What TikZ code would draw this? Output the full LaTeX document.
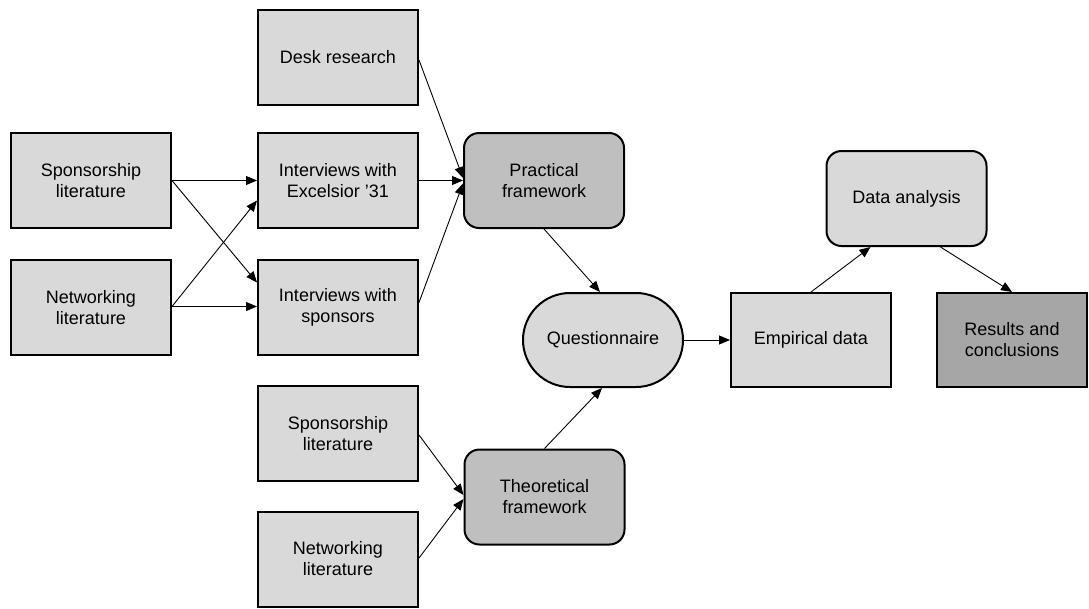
\documentclass[tikz,border=0pt]{standalone}
\usepackage{fontspec}
\setmainfont{Liberation Sans}
\usetikzlibrary{calc,arrows.meta}
\definecolor{boxlight}{HTML}{D9D9D9}
\definecolor{boxmid}{HTML}{BFBFBF}
\definecolor{boxdark}{HTML}{A6A6A6}
\begin{document}
\begin{tikzpicture}[x=1pt,y=-1pt,
  box/.style={draw=black,line width=2pt,fill=boxlight,minimum width=160pt,minimum height=95pt,
    inner sep=0pt,align=center,font=\fontsize{18}{21}\selectfont},
  roundbox/.style={box,rounded corners=15pt},
  pill/.style={box,rounded corners=47pt},
  link/.style={line width=0.9pt,-{Triangle[length=11pt,width=9pt]}}]
\useasboundingbox (0,0) rectangle (1089,608);
% sources
\node[box] (desk) at (338,57) {Desk research};
\node[box] (spl) at (91,180.5) {Sponsorship\\literature};
\node[box] (nwl) at (91,307.5) {Networking\\literature};
\node[box] (exc) at (338,180.5) {Interviews with\\Excelsior '31};
\node[box] (spo) at (338,307.5) {Interviews with\\sponsors};
\node[box] (bsp) at (338,433.5) {Sponsorship\\literature};
\node[box] (bnw) at (338,559) {Networking\\literature};
% frameworks
\node[roundbox,fill=boxmid] (prac) at (544,180.5) {Practical\\framework};
\node[roundbox,fill=boxmid] (theo) at (544.5,497) {Theoretical\\framework};
% analysis chain
\node[pill,minimum height=94pt] (quest) at (603,340) {Questionnaire};
\node[box,minimum height=94pt] (emp) at (811,340) {Empirical data};
\node[roundbox] (da) at (906.5,198.5) {Data analysis};
\node[box,fill=boxdark,minimum width=150pt,minimum height=94pt] (res) at (1012,340) {Results and\\conclusions};
% connectors
\draw[link] ($(desk.east)+(0,3)$) -- ($(prac.west)+(0,-2.5)$);
\draw[link] (exc.east) -- (prac.west);
\draw[link] ($(spo.east)+(0,-5)$) -- ($(prac.west)+(0,3)$);
\draw[link] (spl.east) -- (exc.west);
\draw[link] (spl.east) -- ($(spo.west)+(0,-25)$);
\draw[link] ($(nwl.east)+(0,-1)$) -- ($(exc.west)+(0,20)$);
\draw[link] ($(nwl.east)+(0,-1)$) -- ($(spo.west)+(0,-1)$);
\draw[link] (prac.south) -- ($(quest.north)+(-3,0)$);
\draw[link] (theo.north) -- ($(quest.south)+(-1,0)$);
\draw[link] ($(bsp.east)+(0,1.5)$) -- ($(theo.west)+(0,-2)$);
\draw[link] ($(bnw.east)+(0,-1)$) -- ($(theo.west)+(0,2)$);
\draw[link] (quest.east) -- (emp.west);
\draw[link] (emp.north) -- ($(da.south)+(-36,0)$);
\draw[link] ($(da.south)+(34,0)$) -- (res.north);
\end{tikzpicture}
\end{document}
